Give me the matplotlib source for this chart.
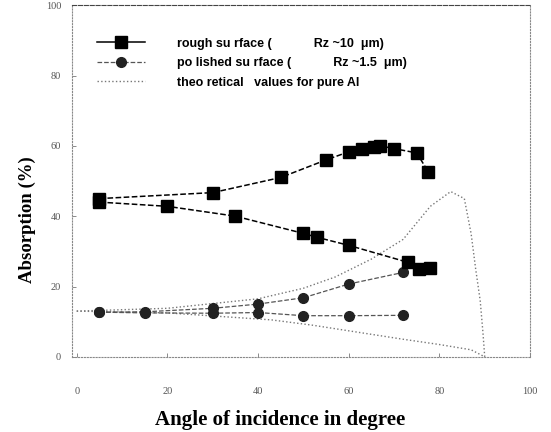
import matplotlib.pyplot as plt

# rough surface, two branches measured
rough_up_x = [5, 30, 45, 55, 60, 63, 65.5, 67, 70, 75, 77.5]
rough_up_y = [45, 46.7, 51, 56, 58.3, 59.2, 59.8, 60, 59.2, 58, 52.7]
rough_lo_x = [5, 20, 35, 50, 53, 60, 73, 75.5, 78]
rough_lo_y = [44, 42.8, 40, 35.1, 34, 31.7, 26.9, 24.9, 25.2]

# polished surface
pol_up_x = [5, 15, 30, 40, 50, 60, 72]
pol_up_y = [12.7, 12.8, 13.8, 15, 16.8, 20.7, 24]
pol_lo_x = [5, 15, 30, 40, 50, 60, 72]
pol_lo_y = [12.7, 12.5, 12.4, 12.6, 11.7, 11.7, 11.8]

# theoretical values for pure Al
theo_p_x = [0, 20, 40, 50, 57, 65, 72, 78, 82.5, 85.5, 87, 88, 89, 89.6, 90]
theo_p_y = [13, 13.8, 16.5, 19.5, 22.7, 27.8, 33.4, 42.8, 47, 45, 35, 25, 16, 7, 0]
theo_s_x = [0, 20, 43, 52, 62, 72, 80, 87, 90]
theo_s_y = [13, 12.5, 10.5, 9, 7, 5, 3.5, 2, 0]

x_ticks = [0, 20, 40, 60, 80, 100]
y_ticks = [0, 20, 40, 60, 80, 100]

plt.rcParams['font.family'] = ['Liberation Serif', 'DejaVu Serif']

fig = plt.figure(figsize=(5.51, 4.32), dpi=100)
ax = fig.add_axes([0.131, 0.174, 0.831, 0.814])

# theoretical curves
ax.plot(theo_p_x, theo_p_y, ':', color='#777777', lw=1.0)
ax.plot(theo_s_x, theo_s_y, ':', color='#777777', lw=1.0,
        label='theo retical   values for pure Al')

# polished
ax.plot(pol_up_x, pol_up_y, '--', color='#555555', lw=0.9,
        marker='o', ms=7, mfc='#222222', mec='#222222')
ax.plot(pol_lo_x, pol_lo_y, '--', color='#555555', lw=0.9,
        marker='o', ms=7, mfc='#222222', mec='#222222',
        label='po lished su rface (            Rz ~1.5  \u03bcm)')

# rough
ax.plot(rough_up_x, rough_up_y, '--', color='black', lw=1.1,
        marker='s', ms=9, mfc='black', mec='black')
ax.plot(rough_lo_x, rough_lo_y, '--', color='black', lw=1.1,
        marker='s', ms=9, mfc='black', mec='black',
        label='rough su rface (            Rz ~10  \u03bcm)')

ax.set_xlim(-1, 100)
ax.set_ylim(0, 100)
ax.set_xticks(x_ticks)
ax.set_yticks(y_ticks)
ax.tick_params(direction='in', length=3, width=0.6, colors='#777777',
               labelsize=7.5, labelcolor='#555555')
ax.tick_params(axis='x', pad=22)
ax.tick_params(axis='y', pad=8)

for side in ['left', 'bottom', 'right']:
    ax.spines[side].set_linestyle(':')
    ax.spines[side].set_color('#888888')
    ax.spines[side].set_linewidth(0.8)
ax.spines['top'].set_linestyle('--')
ax.spines['top'].set_color('#444444')
ax.spines['top'].set_linewidth(0.8)

ax.set_xlabel('Angle of incidence in degree', fontsize=15, fontweight='bold')
ax.set_ylabel('Absorption (%)', fontsize=13.5, fontweight='bold')
ax.xaxis.set_label_coords(0.454, -0.152)
ax.yaxis.set_label_coords(-0.079, 0.39)

handles, labels = ax.get_legend_handles_labels()
leg = ax.legend(handles[::-1], labels[::-1], loc='upper left',
                bbox_to_anchor=(0.03, 0.94), frameon=False,
                handlelength=3.8, handletextpad=2.6, labelspacing=0.6,
                prop={'family': ['Liberation Sans Narrow', 'Liberation Sans', 'DejaVu Sans'],
                      'size': 9, 'weight': 'bold'})
leg.get_lines()[0].set_linestyle('-')

fig.savefig('out.png', dpi=100)
